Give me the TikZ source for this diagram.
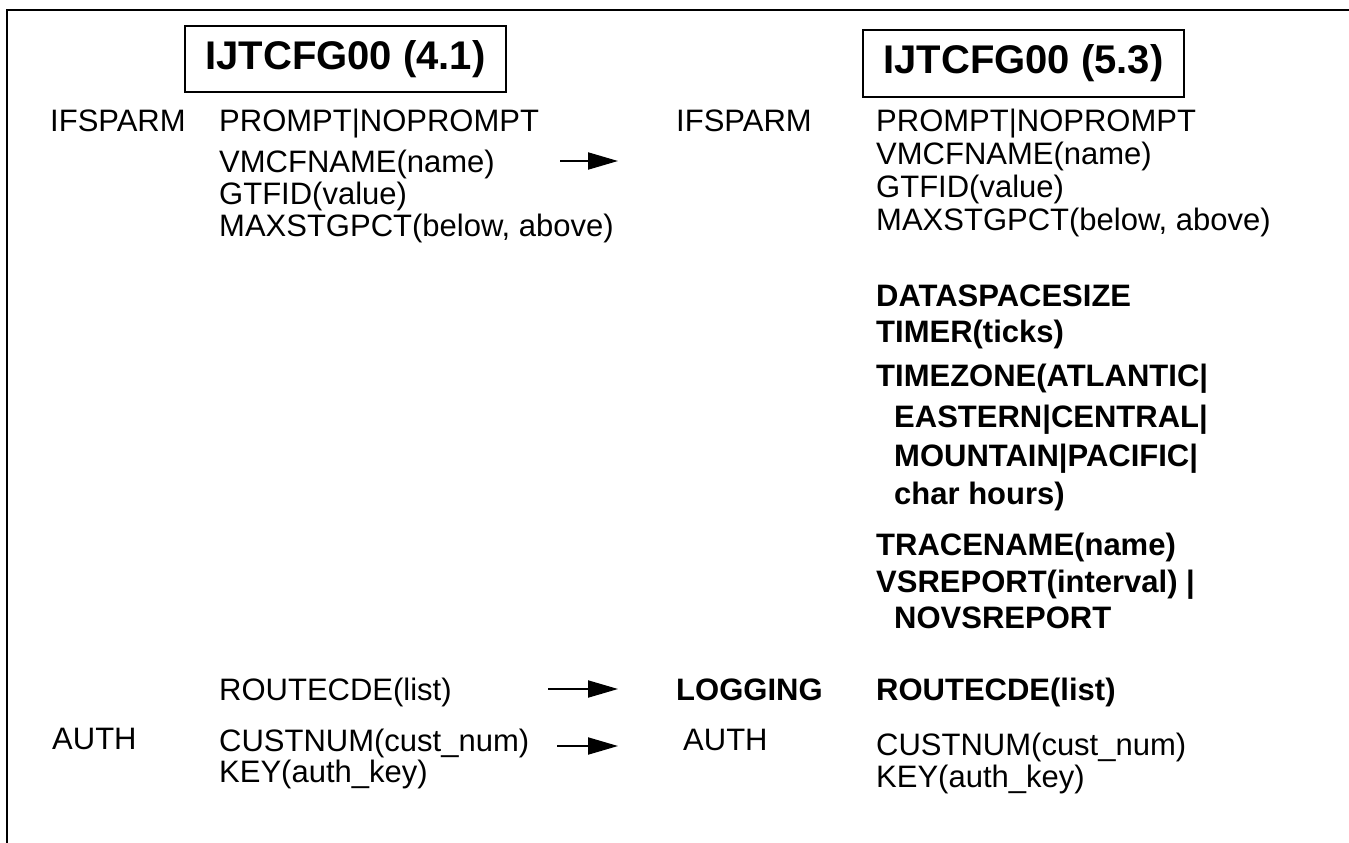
\documentclass[tikz,border=0pt]{standalone}
\usepackage{fontspec}
\setmainfont{Liberation Sans}
\usetikzlibrary{arrows.meta}
\begin{document}
\begin{tikzpicture}[x=1pt,y=-1pt,
  reg/.style={anchor=base west, inner sep=0pt, font=\fontsize{31}{31}\selectfont},
  bld/.style={anchor=base west, inner sep=0pt, font=\bfseries\fontsize{31}{31}\selectfont},
  hdr/.style={draw, line width=2pt, minimum width=321pt, minimum height=66pt, inner sep=0pt, font=\bfseries\fontsize{40}{40}\selectfont},
  arr/.style={line width=2pt, -{Triangle[length=30pt,width=17pt]}},
  frame/.style={line width=2pt}]
\useasboundingbox (0,0) rectangle (1349,843);
\coordinate (ftr) at (1349,10);
\coordinate (ftl) at (7,10);
\coordinate (fbl) at (7,843);
\draw[frame] (ftr) -- (ftl) -- (fbl);
% headers
\node[hdr] (h1) at (345.5,59) {IJTCFG00 (4.1)};
\node[hdr, minimum height=67pt] (h2) at (1023.5,63.5) {IJTCFG00 (5.3)};
% left column
\node[reg] (lif) at (50,131) {IFSPARM};
\node[reg] (lp1) at (219,131) {PROMPT|NOPROMPT};
\node[reg] (lp2) at (219,172) {VMCFNAME(name)};
\node[reg] (lp3) at (219,204) {GTFID(value)};
\node[reg] (lp4) at (219,236) {MAXSTGPCT(below, above)};
\node[reg] (lrc) at (219,700) {ROUTECDE(list)};
\node[reg] (lau) at (52,749) {AUTH};
\node[reg] (lc1) at (219,751) {CUSTNUM(cust\_num)};
\node[reg] (lc2) at (219,782) {KEY(auth\_key)};
% right column
\node[reg] (rif) at (676,131) {IFSPARM};
\node[reg] (rp1) at (876,131) {PROMPT|NOPROMPT};
\node[reg] (rp2) at (876,164) {VMCFNAME(name)};
\node[reg] (rp3) at (876,197) {GTFID(value)};
\node[reg] (rp4) at (876,230) {MAXSTGPCT(below, above)};
\node[bld] (b1) at (876,306) {DATASPACESIZE};
\node[bld] (b2) at (876,342) {TIMER(ticks)};
\node[bld] (b3) at (876,386) {TIMEZONE(ATLANTIC|};
\node[bld] (b4) at (894,427) {EASTERN|CENTRAL|};
\node[bld] (b5) at (894,466) {MOUNTAIN|PACIFIC|};
\node[bld] (b6) at (894,504) {char hours)};
\node[bld] (b7) at (876,555) {TRACENAME(name)};
\node[bld] (b8) at (876,592) {VSREPORT(interval) |};
\node[bld] (b9) at (894,628) {NOVSREPORT};
\node[bld] (rlg) at (676,700) {LOGGING};
\node[bld] (rrc) at (876,700) {ROUTECDE(list)};
\node[reg] (rau) at (683,750) {AUTH};
\node[reg] (rc1) at (876,755) {CUSTNUM(cust\_num)};
\node[reg] (rc2) at (876,787) {KEY(auth\_key)};
% arrows
\coordinate (a1s) at (560,161);
\coordinate (a1e) at (618,161);
\coordinate (a2s) at (548,689);
\coordinate (a2e) at (618,689);
\coordinate (a3s) at (557,746);
\coordinate (a3e) at (618,746);
\draw[arr] (a1s) -- (a1e);
\draw[arr] (a2s) -- (a2e);
\draw[arr] (a3s) -- (a3e);
\end{tikzpicture}
\end{document}
